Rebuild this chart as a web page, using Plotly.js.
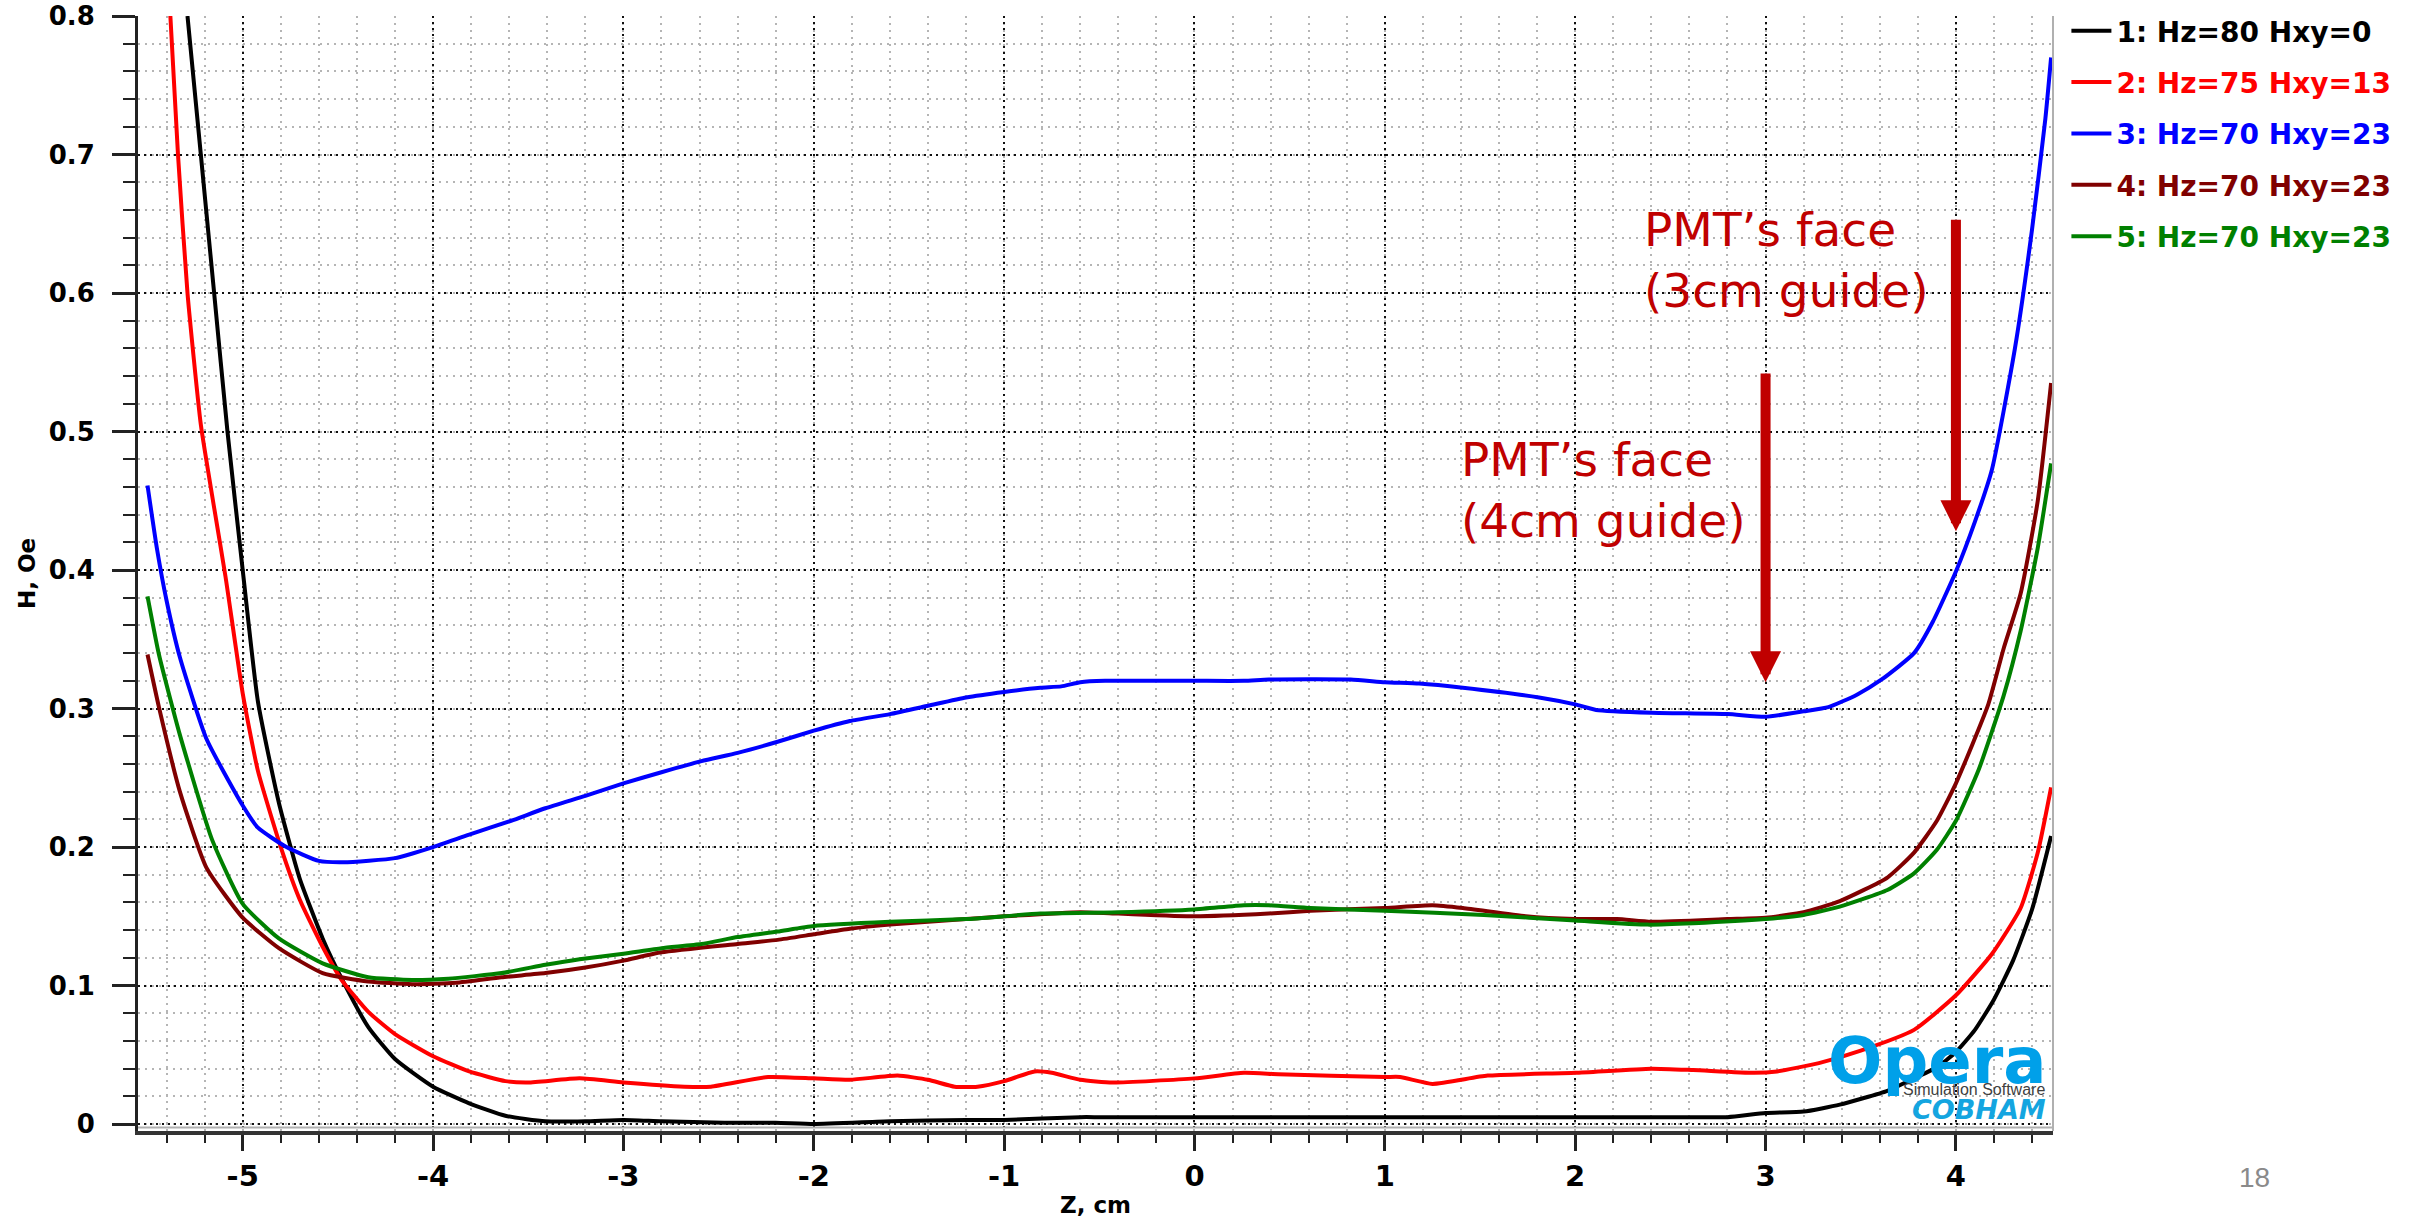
<!DOCTYPE html>
<html>
<head>
<meta charset="utf-8">
<script src="https://cdn.plot.ly/plotly-3.0.1.min.js"></script>
<style>
  html, body { margin: 0; padding: 0; background: #ffffff; }
  #chart { width: 2415px; height: 1218px; }
</style>
</head>
<body>
<div id="chart"></div>
<script>
// Field magnitude H (Oe) along the axis Z (cm) for five field configurations
const seriesNames = ['1: Hz=80 Hxy=0', '2: Hz=75 Hxy=13', '3: Hz=70 Hxy=23', '4: Hz=70 Hxy=23', '5: Hz=70 Hxy=23'];
const seriesColors = ['#000000', '#ff0000', '#0000ff', '#800000', '#008000'];

const z1 = [-5.29, -5.22, -5.15, -5.08, -5.00, -4.92, -4.81, -4.70, -4.58, -4.48, -4.34, -4.20, -4.00, -3.81, -3.62, -3.41, -3.20, -3.00, -2.80, -2.47, -2.20, -2.00, -1.60, -1.20, -1.00, -0.60, -0.50, 0.00, 0.50, 1.00, 1.50, 2.00, 2.50, 2.80, 3.00, 3.20, 3.39, 3.64, 3.78, 3.90, 4.00, 4.10, 4.20, 4.30, 4.40, 4.50];
const h1 = [0.800, 0.700, 0.600, 0.500, 0.400, 0.305, 0.232, 0.177, 0.134, 0.105, 0.070, 0.047, 0.027, 0.015, 0.006, 0.002, 0.002, 0.003, 0.002, 0.001, 0.001, 0.000, 0.002, 0.003, 0.003, 0.005, 0.005, 0.005, 0.005, 0.005, 0.005, 0.005, 0.005, 0.005, 0.008, 0.009, 0.014, 0.024, 0.033, 0.041, 0.052, 0.068, 0.090, 0.118, 0.155, 0.208];

const z2 = [-5.38, -5.34, -5.29, -5.22, -5.15, -5.09, -5.00, -4.92, -4.80, -4.70, -4.58, -4.48, -4.34, -4.20, -4.00, -3.81, -3.62, -3.50, -3.23, -3.00, -2.68, -2.54, -2.24, -2.00, -1.81, -1.56, -1.40, -1.26, -1.14, -1.00, -0.84, -0.75, -0.60, -0.43, 0.00, 0.26, 0.44, 1.00, 1.08, 1.25, 1.54, 2.00, 2.40, 2.62, 2.94, 3.06, 3.28, 3.50, 3.78, 4.00, 4.19, 4.34, 4.43, 4.50];
const h2 = [0.800, 0.700, 0.600, 0.505, 0.445, 0.395, 0.311, 0.255, 0.200, 0.162, 0.128, 0.104, 0.081, 0.065, 0.049, 0.038, 0.031, 0.030, 0.033, 0.030, 0.027, 0.027, 0.034, 0.033, 0.032, 0.035, 0.032, 0.027, 0.027, 0.031, 0.038, 0.037, 0.032, 0.030, 0.033, 0.037, 0.036, 0.034, 0.034, 0.029, 0.035, 0.037, 0.040, 0.039, 0.037, 0.038, 0.044, 0.053, 0.068, 0.093, 0.123, 0.156, 0.196, 0.243];

const z3 = [-5.50, -5.45, -5.40, -5.33, -5.19, -5.00, -4.92, -4.77, -4.60, -4.47, -4.20, -4.00, -3.81, -3.59, -3.41, -3.20, -3.00, -2.80, -2.59, -2.40, -2.19, -2.00, -1.81, -1.60, -1.40, -1.20, -1.00, -0.81, -0.70, -0.60, -0.47, 0.00, 0.26, 0.39, 0.82, 1.00, 1.18, 1.41, 1.81, 2.00, 2.11, 2.40, 2.80, 3.00, 3.20, 3.33, 3.48, 3.61, 3.78, 3.88, 4.00, 4.10, 4.19, 4.31, 4.40, 4.47, 4.50];
const h3 = [0.461, 0.415, 0.378, 0.337, 0.278, 0.230, 0.214, 0.200, 0.190, 0.189, 0.192, 0.200, 0.209, 0.219, 0.228, 0.237, 0.246, 0.254, 0.262, 0.268, 0.276, 0.284, 0.291, 0.296, 0.302, 0.308, 0.312, 0.315, 0.316, 0.319, 0.320, 0.320, 0.320, 0.321, 0.321, 0.319, 0.318, 0.315, 0.308, 0.303, 0.299, 0.297, 0.296, 0.294, 0.298, 0.301, 0.310, 0.321, 0.340, 0.363, 0.399, 0.435, 0.473, 0.560, 0.646, 0.726, 0.770];

const z4 = [-5.50, -5.44, -5.33, -5.19, -5.00, -4.81, -4.58, -4.34, -4.11, -3.88, -3.64, -3.41, -3.20, -3.00, -2.80, -2.40, -2.19, -2.00, -1.81, -1.60, -1.20, -1.00, -0.60, -0.40, 0.00, 0.39, 0.61, 1.00, 1.25, 1.41, 1.74, 2.00, 2.22, 2.40, 2.80, 3.00, 3.20, 3.39, 3.64, 3.78, 3.90, 4.00, 4.17, 4.25, 4.34, 4.43, 4.50];
const h4 = [0.339, 0.301, 0.240, 0.185, 0.149, 0.127, 0.109, 0.103, 0.101, 0.102, 0.106, 0.109, 0.113, 0.118, 0.124, 0.130, 0.133, 0.137, 0.141, 0.144, 0.148, 0.150, 0.153, 0.152, 0.150, 0.152, 0.154, 0.156, 0.158, 0.156, 0.150, 0.148, 0.148, 0.146, 0.148, 0.149, 0.153, 0.161, 0.178, 0.196, 0.219, 0.246, 0.303, 0.343, 0.383, 0.450, 0.535];

const z5 = [-5.50, -5.44, -5.33, -5.16, -5.00, -4.81, -4.58, -4.34, -4.11, -3.92, -3.64, -3.41, -3.23, -3.00, -2.80, -2.59, -2.40, -2.19, -2.00, -1.60, -1.20, -1.00, -0.81, -0.40, 0.00, 0.26, 0.39, 0.61, 1.00, 1.52, 2.00, 2.38, 2.62, 3.00, 3.20, 3.39, 3.64, 3.78, 3.90, 4.00, 4.12, 4.25, 4.34, 4.43, 4.50];
const h5 = [0.381, 0.339, 0.281, 0.205, 0.159, 0.134, 0.116, 0.106, 0.104, 0.105, 0.109, 0.115, 0.119, 0.123, 0.127, 0.130, 0.135, 0.139, 0.143, 0.146, 0.148, 0.150, 0.152, 0.153, 0.155, 0.158, 0.158, 0.156, 0.154, 0.151, 0.147, 0.144, 0.145, 0.148, 0.151, 0.157, 0.169, 0.181, 0.198, 0.219, 0.256, 0.309, 0.356, 0.416, 0.477];

const xTickVals = [-5, -4, -3, -2, -1, 0, 1, 2, 3, 4];
const xTickText = ['-5', '-4', '-3', '-2', '-1', '0', '1', '2', '3', '4'];
const yTickVals = [0, 0.1, 0.2, 0.3, 0.4, 0.5, 0.6, 0.7, 0.8];
const yTickText = ['0', '0.1', '0.2', '0.3', '0.4', '0.5', '0.6', '0.7', '0.8'];

// PMT face positions for the two light-guide lengths
const guideLabels = ['PMT’s face<br>(4cm guide)', 'PMT’s face<br>(3cm guide)'];
const guideZ = [3, 4];

const zs = [z1, z2, z3, z4, z5];
const hs = [h1, h2, h3, h4, h5];

const traces = zs.map((z, i) => ({
  type: 'scatter',
  mode: 'lines',
  x: z,
  y: hs[i],
  name: '<span style="color:' + seriesColors[i] + '">' + seriesNames[i] + '</span>',
  legendgroup: 'g' + i,
  line: { color: seriesColors[i], width: 4, shape: 'spline', smoothing: 0.5 },
  hoverinfo: 'x+y'
}));

const boldFont = { family: 'DejaVu Sans', weight: 'bold', color: '#000000' };
const red = '#c00000';

const annotations = [
  // label text for each guide
  { x: 1.39, y: 0.458, xref: 'x', yref: 'y', xanchor: 'left', yanchor: 'middle', align: 'left',
    text: guideLabels[0], showarrow: false, font: { family: 'DejaVu Sans', size: 47, color: red } },
  { x: 2.35, y: 0.624, xref: 'x', yref: 'y', xanchor: 'left', yanchor: 'middle', align: 'left',
    text: guideLabels[1], showarrow: false, font: { family: 'DejaVu Sans', size: 47, color: red } },
  // arrows pointing at the PMT faces
  { x: guideZ[0], y: 0.319, ax: guideZ[0], ay: 0.543, xref: 'x', yref: 'y', axref: 'x', ayref: 'y',
    text: '', showarrow: true, arrowhead: 2, arrowsize: 0.62, arrowwidth: 10, arrowcolor: red, standoff: 0 },
  { x: guideZ[1], y: 0.428, ax: guideZ[1], ay: 0.654, xref: 'x', yref: 'y', axref: 'x', ayref: 'y',
    text: '', showarrow: true, arrowhead: 2, arrowsize: 0.62, arrowwidth: 10, arrowcolor: red, standoff: 0 },
  // software logo in the lower right corner of the plot
  { x: 0.9974, y: 0.0625, xref: 'paper', yref: 'paper', xanchor: 'right', yanchor: 'middle',
    text: 'Opera', showarrow: false, font: { family: 'DejaVu Sans', weight: 'bold', size: 64, color: '#00a0e9' } },
  { x: 0.9968, y: 0.0376, xref: 'paper', yref: 'paper', xanchor: 'right', yanchor: 'middle',
    text: 'Simulation Software', showarrow: false, font: { family: 'Liberation Sans', size: 16, color: '#404040' } },
  { x: 0.9974, y: 0.0196, xref: 'paper', yref: 'paper', xanchor: 'right', yanchor: 'middle',
    text: 'COBHAM', showarrow: false, font: { family: 'DejaVu Sans', weight: 'bold', style: 'italic', size: 27, color: '#14a5e0' } },
  // slide number
  { x: 1.105, y: -0.042, xref: 'paper', yref: 'paper', xanchor: 'center', yanchor: 'middle',
    text: '18', showarrow: false, font: { family: 'Liberation Sans', size: 28, color: '#8a8a8a' } }
];

const layout = {
  width: 2415,
  height: 1218,
  paper_bgcolor: '#ffffff',
  plot_bgcolor: '#ffffff',
  margin: { l: 138, r: 362, t: 16, b: 87, autoexpand: false },
  showlegend: true,
  legend: {
    x: 1.007, y: 1.009, xanchor: 'left', yanchor: 'top',
    traceorder: 'grouped', tracegroupgap: 12,
    font: { family: 'DejaVu Sans', size: 28, weight: 'bold' },
    bgcolor: 'rgba(0,0,0,0)', itemwidth: 40
  },
  xaxis: {
    range: [-5.55, 4.51],
    tickmode: 'array', tickvals: xTickVals, ticktext: xTickText,
    ticks: 'outside', ticklen: 16, tickwidth: 3, tickcolor: '#222222',
    tickfont: Object.assign({ size: 29 }, boldFont),
    showline: true, linecolor: '#333333', linewidth: 4,
    zeroline: false,
    showgrid: true, gridcolor: '#111111', gridwidth: 2, griddash: '2px,4px',
    minor: { tickmode: 'linear', tick0: 0, dtick: 0.2, ticks: 'outside', ticklen: 8, tickwidth: 2, tickcolor: '#222222',
             showgrid: true, gridcolor: '#b5b5b5', gridwidth: 2, griddash: '2px,5px' },
    title: { text: 'Z, cm', font: Object.assign({ size: 23 }, boldFont), standoff: 8 },
    fixedrange: true
  },
  yaxis: {
    range: [-0.005, 0.8],
    tickmode: 'array', tickvals: yTickVals, ticktext: yTickText,
    ticks: 'outside', ticklen: 23, tickwidth: 3, tickcolor: '#222222',
    ticklabelstandoff: 12,
    tickfont: Object.assign({ size: 26 }, boldFont),
    showline: true, linecolor: '#222222', linewidth: 3,
    zeroline: false,
    showgrid: true, gridcolor: '#111111', gridwidth: 2, griddash: '2px,4px',
    minor: { tickmode: 'linear', tick0: 0, dtick: 0.02, ticks: 'outside', ticklen: 12, tickwidth: 2, tickcolor: '#222222',
             showgrid: true, gridcolor: '#b5b5b5', gridwidth: 2, griddash: '2px,5px' },
    title: { text: 'H, Oe', font: Object.assign({ size: 23 }, boldFont), standoff: 7 },
    fixedrange: true
  },
  shapes: [
    // light frame on the right and bottom of the plotting area
    { type: 'line', xref: 'paper', yref: 'paper', x0: 1, x1: 1, y0: 0, y1: 1, line: { color: '#b0b0b0', width: 2 } },
    { type: 'line', xref: 'paper', yref: 'y', x0: 0, x1: 1, y0: -0.0025, y1: -0.0025, line: { color: '#b0b0b0', width: 2 } }
  ],
  annotations: annotations
};

Plotly.newPlot('chart', traces, layout, { displayModeBar: false, staticPlot: true });
</script>
</body>
</html>
